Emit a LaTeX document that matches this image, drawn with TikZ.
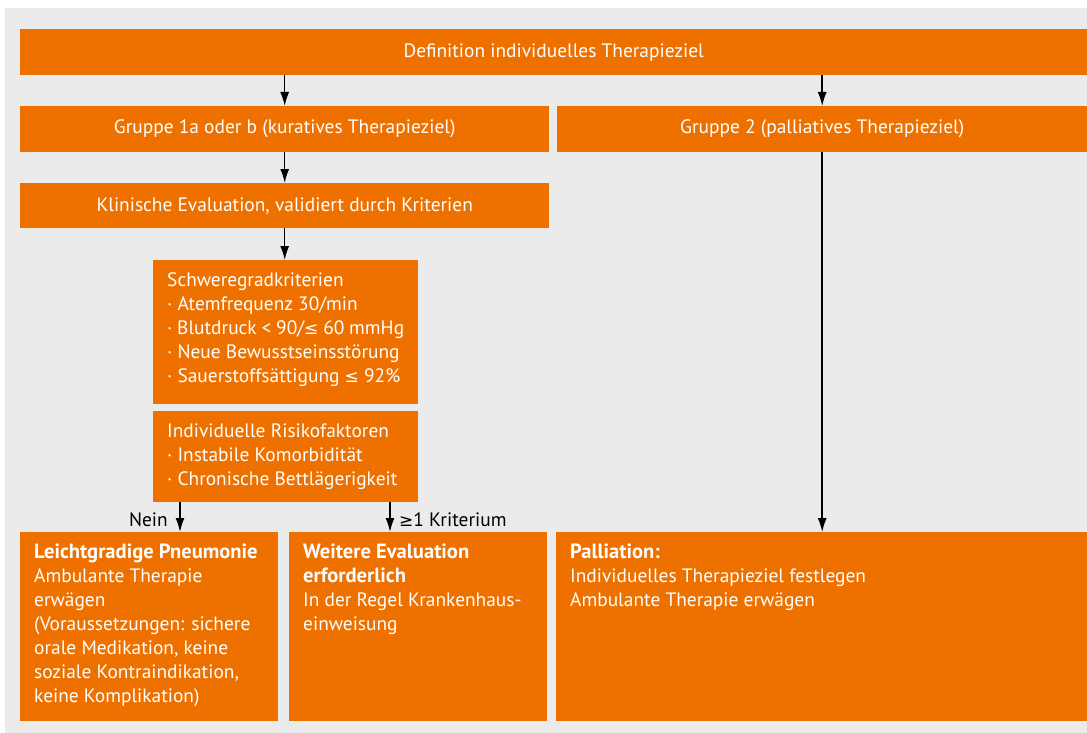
\documentclass[tikz,border=0pt]{standalone}
\usepackage{fontspec}
\setmainfont{PT Sans}[BoldFeatures={Scale=1.06}]
\newfontfamily\symfont{DejaVu Sans}
\usetikzlibrary{arrows.meta}
\definecolor{thorange}{RGB}{238,113,0}
\definecolor{thgray}{RGB}{235,235,235}
\begin{document}
\begin{tikzpicture}[x=1pt,y=-1pt,font=\fontsize{19.4}{24}\selectfont,
    bar/.style={fill=thorange,text=white,inner sep=0pt,anchor=north west,minimum height=46},
    block/.style={fill=thorange,text=white,inner xsep=14pt,inner ysep=9.5pt,anchor=north west},
    flow/.style={-{Latex[length=14pt,width=9pt]},line width=1.5pt},
    lbl/.style={text=black,inner sep=0pt}]
    \useasboundingbox (0,0) rectangle (1087,733);
    \fill[thgray] (5,8) rectangle (1087,733);
    % top row
    \node[bar,minimum width=1067] (def) at (20,29) {Definition individuelles Therapieziel};
    \node[bar,minimum width=529] (grp1) at (20,106) {Gruppe 1a oder b (kuratives Therapieziel)};
    \node[bar,minimum width=530] (grp2) at (557,106) {Gruppe 2 (palliatives Therapieziel)};
    \node[bar,minimum width=529,minimum height=45] (klin) at (20,183) {Klinische Evaluation, validiert durch Kriterien};
    % criteria
    \node[block] (schwere) at (153,260) {\parbox[t][125pt][t]{237pt}{\strut Schweregradkriterien\\
        · Atemfrequenz 30/min\\
        · Blutdruck < 90/{\symfont\fontsize{17}{24}\selectfont ≤} 60 mmHg\\
        · Neue Bewusstseinsstörung\\
        · Sauerstoffsättigung {\symfont\fontsize{17}{24}\selectfont ≤} 92\%}};
    \node[block] (risk) at (153,411) {\parbox[t][72pt][t]{237pt}{\strut Individuelle Risikofaktoren\\
        · Instabile Komorbidität\\
        · Chronische Bettlägerigkeit}};
    % outcomes
    \node[block] (leicht) at (20,532) {\parbox[t][170pt][t]{230pt}{\strut\textbf{Leichtgradige Pneumonie}\\
        Ambulante Therapie\\
        erwägen\\
        (Voraussetzungen: sichere\\
        orale Medikation, keine\\
        soziale Kontraindikation,\\
        keine Komplikation)}};
    \node[block] (weitere) at (289,532) {\parbox[t][170pt][t]{230pt}{\strut\textbf{Weitere Evaluation}\\
        \textbf{erforderlich}\\
        In der Regel Krankenhaus-\\
        einweisung}};
    \node[block] (pall) at (556,532) {\parbox[t][170pt][t]{503pt}{\strut\textbf{Palliation:}\\
        Individuelles Therapieziel festlegen\\
        Ambulante Therapie erwägen}};
    % connectors
    \coordinate (neinx) at (180,0);
    \coordinate (kritx) at (390,0);
    \draw[flow] (grp1.north |- def.south) -- (grp1.north);
    \draw[flow] (grp2.north |- def.south) -- (grp2.north);
    \draw[flow] (grp1.south) -- (klin.north);
    \draw[flow] (klin.south) -- (klin.south |- schwere.north);
    \draw[flow] (risk.south -| neinx) -- (leicht.north -| neinx);
    \draw[flow] (risk.south -| kritx) -- (weitere.north -| kritx);
    \draw[flow] (grp2.south) -- (grp2.south |- pall.north);
    \node[lbl,anchor=base east] (nein) at (168,526) {Nein};
    \node[lbl,anchor=base west] (krit) at (399,526) {{\symfont\fontsize{17}{24}\selectfont ≥}1 Kriterium};
\end{tikzpicture}
\end{document}
